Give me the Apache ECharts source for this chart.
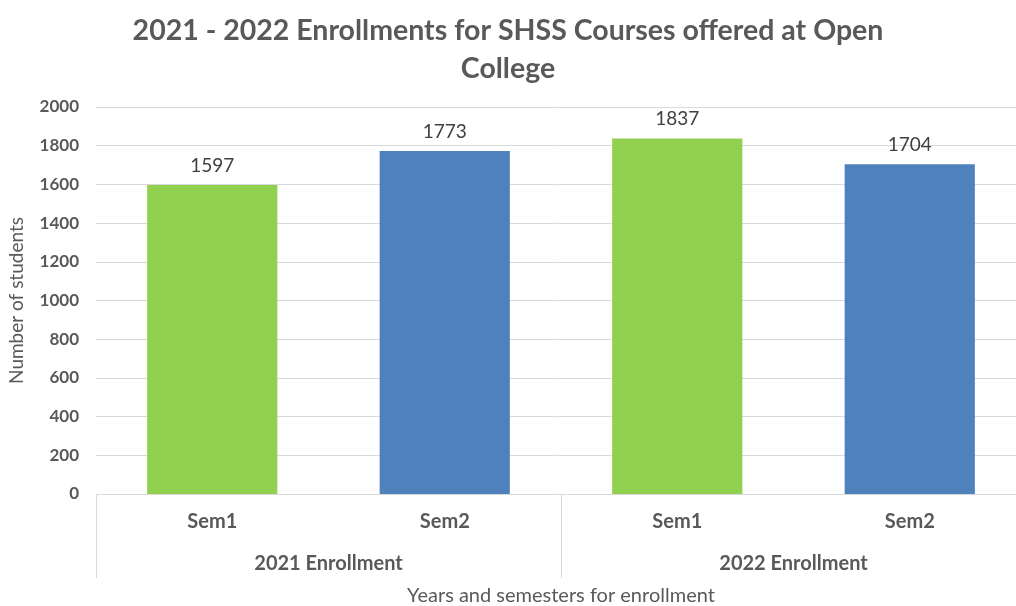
<!DOCTYPE html>
<html>
<head>
<meta charset="utf-8">
<script src="https://cdn.jsdelivr.net/npm/echarts@6/dist/echarts.min.js"></script>
<style>
  html, body { margin: 0; padding: 0; background: #fff; }
  #chart { width: 1016px; height: 606px; }
</style>
</head>
<body>
<div id="chart"></div>
<script>
const semesters = ['Sem1', 'Sem2', 'Sem1', 'Sem2']
const years = ['2021 Enrollment', '2022 Enrollment']
const enrollments = [1597, 1773, 1837, 1704]
const barColors = ['#92D050', '#4F81BD', '#92D050', '#4F81BD']

let myChart = echarts.init(document.getElementById('chart'))
let option = {
  textStyle: { fontFamily: 'Lato' },
  title: {
    text: '2021 - 2022 Enrollments for SHSS Courses offered at Open\nCollege',
    left: 'center',
    top: 7,
    textStyle: {
      fontFamily: 'Lato',
      fontSize: 28.5,
      fontWeight: 'bold',
      color: '#595959',
      lineHeight: 38
    }
  },
  grid: {
    left: 96,
    right: -10,
    top: 107,
    bottom: 112,
    containLabel: false,
    outerBoundsMode: 'none'
  },
  xAxis: [
    {
      type: 'category',
      data: semesters,
      axisLine: { lineStyle: { color: '#D9D9D9', width: 1 } },
      axisTick: { show: false },
      axisLabel: {
        color: '#595959',
        fontSize: 20,
        fontWeight: 'bold',
        margin: 18
      }
    },
    {
      type: 'category',
      data: years,
      position: 'bottom',
      axisLine: { show: false },
      // 分组分隔线
      axisTick: {
        show: true,
        length: 84,
        lineStyle: { color: '#D9D9D9' }
      },
      axisLabel: {
        color: '#595959',
        fontSize: 20,
        fontWeight: 'bold',
        margin: 60
      },
      name: 'Years and semesters for enrollment',
      nameLocation: 'middle',
      nameGap: 92,
      nameTextStyle: { color: '#595959', fontSize: 20 }
    }
  ],
  yAxis: {
    type: 'value',
    min: 0,
    max: 2000,
    interval: 200,
    axisLine: { show: false },
    axisTick: { show: false },
    axisLabel: {
      color: '#595959',
      fontSize: 17,
      fontWeight: 'bold',
      margin: 17,
      // 不要千位分隔符
      formatter: function(v) {
        return String(v)
      }
    },
    splitLine: { lineStyle: { color: '#D9D9D9' } },
    name: 'Number of students',
    nameLocation: 'middle',
    nameGap: 70,
    nameTextStyle: { color: '#595959', fontSize: 19 }
  },
  series: [
    {
      type: 'bar',
      xAxisIndex: 0,
      data: enrollments,
      barWidth: '56%',
      itemStyle: {
        color: function(params) {
          return barColors[params.dataIndex]
        }
      },
      label: {
        show: true,
        position: 'top',
        distance: 10,
        color: '#404040',
        fontSize: 19
      }
    }
  ]
}
myChart.setOption(option)
window.addEventListener('resize', function() {
  myChart.resize()
})
</script>
</body>
</html>
